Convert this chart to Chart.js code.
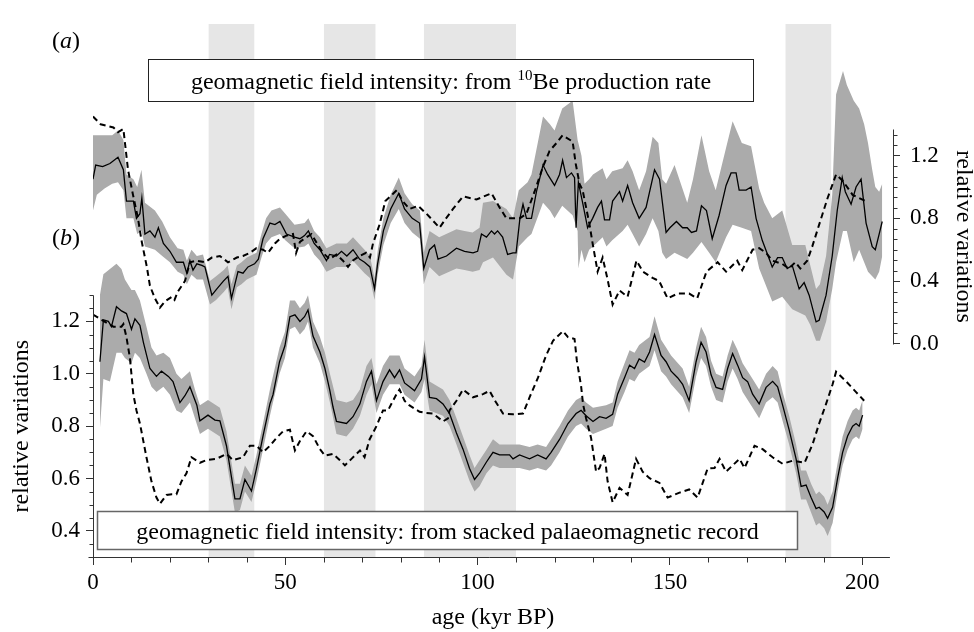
<!DOCTYPE html>
<html lang="en">
<head>
<meta charset="UTF-8">
<title>geomagnetic field intensity</title>
<script src="https://cdn.jsdelivr.net/npm/chart.js@4"></script>
<style>
  body { margin: 0; background: #fff; }
  #wrap { width: 974px; height: 632px; }
</style>
</head>
<body>
<div id="wrap"><canvas id="chart"></canvas></div>
<script>
// shaded intervals (kyr BP)
const bandStart = [30, 60, 86, 180];
const bandEnd = [42, 73.5, 110, 192];

// (a) field from 10Be production rate, right axis  [age, value]
const aSolid = [[0,1.05],[0.7,1.14],[2.5,1.13],[4.4,1.15],[6.5,1.19],[7.9,1.11],[8.7,0.91],[10.5,0.91],[11.3,0.80],[12.2,0.83],[12.7,0.93],[13.5,0.70],[14.8,0.72],[16.1,0.68],[17,0.74],[18.3,0.64],[20,0.59],[21.7,0.52],[23.5,0.52],[24.4,0.45],[25.2,0.53],[26,0.47],[27,0.51],[28.3,0.50],[29.1,0.49],[30.9,0.31],[32.2,0.35],[33.9,0.40],[35.1,0.43],[36,0.29],[37.7,0.46],[39,0.45],[40.3,0.49],[42,0.51],[43,0.54],[44.2,0.67],[46,0.77],[47.3,0.76],[48.6,0.78],[50.3,0.70],[52.4,0.68],[53.8,0.67],[55,0.69],[56,0.72],[57.5,0.64],[59,0.60],[60.7,0.53],[61.5,0.57],[63.3,0.56],[64.6,0.59],[66,0.56],[67.6,0.60],[69.3,0.54],[70.6,0.52],[72,0.49],[73.2,0.35],[74,0.51],[75.5,0.72],[77.4,0.86],[79.5,0.96],[81,0.86],[83,0.80],[84.9,0.77],[86,0.48],[87.5,0.60],[88.8,0.63],[89.7,0.54],[91.9,0.56],[94.5,0.61],[96.6,0.59],[98.8,0.58],[100,0.59],[101,0.70],[102.3,0.68],[103.6,0.72],[104.4,0.70],[105.2,0.72],[106.5,0.68],[107.8,0.57],[109.2,0.58],[110,0.58],[111,0.80],[111.8,0.89],[112.7,0.80],[114,0.80],[115.3,0.97],[117,1.14],[118.2,1.08],[120,1.01],[121.3,1.08],[122.1,1.17],[123.1,1.06],[124.4,1.09],[125.2,1.06],[125.6,0.74],[126.2,1.03],[127.3,0.90],[128.6,0.74],[129.9,0.80],[131.2,0.87],[132.2,0.91],[133,0.79],[134.3,0.79],[135.1,0.91],[136.9,0.97],[137.7,0.91],[139,1.01],[140.3,0.90],[142,0.80],[143.8,0.87],[146,1.11],[147.3,1.05],[149,0.71],[150,0.74],[151.7,0.78],[153.3,0.74],[154.5,0.74],[155.6,0.71],[156.9,0.72],[158.2,0.88],[159.5,0.85],[161,0.67],[162.8,0.82],[164.6,1.01],[165.9,1.09],[167.2,1.09],[168,0.98],[169.8,0.98],[171.1,1.00],[172.4,0.80],[174,0.66],[176.6,0.49],[178,0.55],[179.2,0.55],[180.5,0.48],[181.8,0.50],[183.6,0.35],[184.9,0.39],[186.2,0.31],[188,0.14],[188.8,0.15],[190.6,0.31],[192.2,0.56],[193.5,0.85],[194.8,1.06],[195.6,0.97],[197.1,0.89],[198.4,1.00],[199.7,1.05],[201,0.77],[202.6,0.62],[203.4,0.60],[204.4,0.70],[205.2,0.78]];

// (a) uncertainty band  [age, low, high]
const aBand = [[0,0.85,1.33],[1,0.95,1.33],[3,0.99,1.33],[5,1.02,1.33],[6.5,1.03,1.36],[7.9,0.98,1.30],[8.7,0.80,1.08],[10.5,0.80,1.05],[11.5,0.70,1.00],[12.6,0.72,1.11],[13.5,0.62,0.90],[16.1,0.60,0.85],[18,0.56,0.78],[20,0.52,0.68],[22,0.46,0.61],[23.5,0.44,0.60],[24.4,0.38,0.53],[25.6,0.44,0.60],[27,0.41,0.56],[28.6,0.41,0.57],[30.4,0.25,0.40],[32,0.28,0.43],[34,0.33,0.47],[35,0.36,0.50],[36,0.22,0.38],[37.4,0.36,0.50],[38.6,0.38,0.52],[40,0.41,0.55],[42.5,0.44,0.58],[43.8,0.55,0.70],[45,0.64,0.80],[46.4,0.68,0.85],[48.6,0.70,0.87],[50,0.66,0.83],[52.4,0.61,0.76],[55,0.62,0.77],[56,0.64,0.80],[57.5,0.57,0.72],[59,0.53,0.68],[60.7,0.46,0.61],[63.3,0.49,0.64],[66,0.49,0.64],[67.6,0.53,0.68],[70.6,0.45,0.60],[72,0.42,0.56],[73.2,0.28,0.42],[74,0.44,0.59],[75.5,0.63,0.80],[77.4,0.77,0.95],[79.5,0.86,1.06],[81,0.77,0.96],[83,0.71,0.89],[85,0.67,0.85],[86,0.38,0.58],[87.5,0.49,0.72],[90,0.43,0.68],[94.5,0.48,0.73],[96.6,0.47,0.72],[98.7,0.46,0.71],[100.5,0.47,0.74],[101.4,0.52,0.90],[104,0.55,0.91],[107.5,0.44,0.86],[109.2,0.41,0.80],[110.7,0.62,0.98],[113,0.68,1.03],[114,0.70,1.08],[117,0.90,1.45],[118.8,0.85,1.40],[120,0.80,1.36],[122,0.88,1.50],[124.7,0.82,1.55],[126,0.72,1.30],[126.2,0.48,1.28],[127,0.60,1.20],[127.8,0.52,1.02],[129,0.60,1.05],[130,0.62,1.08],[132.5,0.68,1.12],[133.5,0.62,1.05],[135,0.66,1.10],[137.7,0.72,1.12],[139,0.76,1.17],[140.3,0.70,1.10],[142,0.62,0.98],[143.8,0.70,1.10],[145.5,0.80,1.32],[147,0.72,1.28],[148,0.58,1.05],[149,0.54,1.02],[151.2,0.58,1.14],[154.5,0.54,0.90],[156,0.58,1.05],[158.2,0.65,1.33],[160.2,0.58,1.10],[161.9,0.52,0.98],[164.6,0.68,1.25],[166.3,0.76,1.42],[168.7,0.74,1.28],[171.1,0.72,1.26],[173.2,0.48,0.99],[174.5,0.40,0.90],[176.6,0.27,0.80],[179.2,0.30,0.85],[181.8,0.22,0.63],[185.2,0.18,0.63],[186.5,0.12,0.50],[188,0.02,0.35],[189,0.02,0.38],[190.6,0.14,0.56],[192.2,0.35,0.95],[193.2,0.52,1.59],[195,0.72,1.74],[196,0.72,1.65],[197.8,0.52,1.55],[199.2,0.60,1.50],[200.5,0.52,1.40],[201.5,0.46,1.28],[202.6,0.43,1.11],[203.4,0.41,1.00],[204.4,0.46,0.97],[205.2,0.56,1.02]];

// (a) dashed comparison curve  [age, value]
const aDashed = [[0,1.45],[2,1.40],[5.3,1.38],[6.5,1.35],[7.9,1.37],[9.1,1.11],[10.4,0.95],[11.7,0.80],[12.6,0.66],[14,0.49],[14.8,0.37],[16.1,0.29],[17.4,0.23],[18.7,0.27],[20.5,0.30],[21.2,0.28],[22,0.33],[23.9,0.40],[25.2,0.52],[27,0.53],[29.1,0.52],[30.9,0.55],[33,0.56],[35.1,0.52],[37.4,0.55],[39,0.56],[40.8,0.58],[42.5,0.61],[44.2,0.60],[45.5,0.58],[47.3,0.64],[48.6,0.67],[50.3,0.69],[52,0.70],[52.8,0.58],[53.8,0.65],[55.5,0.68],[56.8,0.70],[58,0.65],[59.8,0.58],[61.5,0.54],[63.3,0.57],[65,0.53],[66.3,0.49],[67.5,0.53],[69.3,0.56],[71,0.58],[72,0.55],[72.8,0.64],[74.5,0.76],[76,0.91],[79,0.98],[80.5,0.91],[82.3,0.86],[84.5,0.88],[86.7,0.83],[90.1,0.74],[91.5,0.79],[93.6,0.86],[96.2,0.94],[99.7,0.92],[103.6,0.96],[105.7,0.87],[107.5,0.80],[111,0.80],[112.7,0.83],[114.8,0.97],[117,1.13],[118.7,1.23],[120.5,1.28],[122.1,1.33],[124.7,1.29],[125.5,1.15],[126.5,1.02],[127.3,0.98],[129.1,0.76],[129.9,0.64],[131.2,0.46],[132.5,0.55],[133.8,0.41],[135.1,0.25],[136.9,0.34],[139,0.30],[141.3,0.53],[143,0.46],[145.5,0.42],[147.2,0.40],[149.4,0.29],[152,0.32],[155,0.32],[157.1,0.29],[159.5,0.46],[162.4,0.52],[164.6,0.46],[167.5,0.53],[168.8,0.47],[171.5,0.60],[173.2,0.61],[175,0.58],[176.6,0.53],[179.2,0.51],[180.9,0.48],[182.6,0.52],[183.9,0.48],[185.7,0.53],[187,0.62],[188.8,0.76],[191,0.93],[193.2,1.08],[194.9,1.04],[197.5,0.95],[199.2,0.93],[200.9,0.91]];

// (b) stacked palaeomagnetic record, left axis  [age, value]
const bSolid = [[1.8,1.046],[2.7,1.206],[4,1.20],[4.8,1.18],[6.1,1.256],[7.4,1.24],[8.7,1.23],[10,1.17],[10.9,1.21],[12.2,1.185],[13.1,1.12],[14.8,1.02],[16.5,0.99],[17.8,1.01],[19.6,0.99],[20.8,0.97],[22.6,0.89],[23.9,0.916],[25.2,0.95],[27,0.88],[27.8,0.82],[29.9,0.842],[31.7,0.823],[33,0.82],[34.7,0.725],[36.9,0.522],[38.2,0.522],[39.5,0.596],[41.2,0.552],[42.5,0.638],[44.2,0.762],[46,0.885],[46.8,0.92],[48.5,1.046],[49.9,1.107],[51.2,1.218],[52.5,1.225],[53.8,1.20],[55,1.218],[55.9,1.244],[57.2,1.144],[59,1.083],[60.3,1.02],[61.6,0.935],[62.4,0.873],[63.3,0.818],[65.9,0.81],[67.6,0.836],[69.4,0.885],[71.1,0.971],[72.4,1.01],[73.7,0.897],[75.4,0.97],[77.1,1.015],[78.4,0.985],[79.7,1.015],[81,0.965],[82.3,0.95],[83.6,0.935],[85.4,0.98],[86.2,1.064],[87.5,0.91],[89.3,0.905],[91,0.885],[92.7,0.848],[94.5,0.774],[96.2,0.712],[97.9,0.638],[99.2,0.596],[100.5,0.62],[102.3,0.663],[103.1,0.681],[104,0.70],[105.7,0.69],[108.3,0.69],[109.2,0.675],[110.9,0.69],[113.5,0.675],[115.6,0.69],[117.8,0.675],[119.1,0.70],[121.3,0.749],[123.5,0.81],[125.6,0.848],[126.9,0.86],[128.2,0.84],[130,0.818],[131.7,0.836],[133.4,0.83],[135.1,0.845],[136.4,0.922],[138.2,0.985],[139.5,1.033],[140.8,1.02],[142,1.057],[143.4,1.045],[144.7,1.083],[146,1.15],[147.7,1.07],[149,1.046],[150.3,1.01],[152,0.985],[153.3,0.96],[155,0.897],[156.8,1.046],[158.1,1.12],[159.4,1.083],[160.7,0.996],[162,0.948],[163.7,0.94],[165,1.02],[166.3,1.077],[167.6,1.033],[168.9,0.985],[170.2,0.97],[171.5,0.922],[173.2,0.885],[175,0.948],[176.7,0.971],[178,0.95],[179.3,0.88],[181,0.786],[182.8,0.675],[184.1,0.57],[185.4,0.575],[186.7,0.527],[188,0.485],[188.8,0.49],[190.1,0.472],[191,0.448],[192.3,0.49],[193.6,0.601],[194.9,0.70],[196.2,0.762],[197.5,0.80],[198.4,0.81],[199.2,0.80],[200.1,0.842]];

// (b) uncertainty band  [age, low, high]
const bBand = [[1.8,0.79,1.30],[2.7,0.98,1.38],[4.4,0.97,1.40],[6.1,1.08,1.42],[7.4,1.08,1.40],[8.3,1.06,1.36],[10,1.04,1.32],[10.9,1.08,1.32],[12.2,1.06,1.28],[13.9,1.00,1.18],[15.2,0.95,1.10],[16.5,0.93,1.07],[18.3,0.95,1.08],[20,0.92,1.06],[21.7,0.86,1.00],[23,0.85,0.98],[25.2,0.89,1.01],[26.5,0.83,0.94],[27.8,0.77,0.88],[29.9,0.79,0.90],[33,0.76,0.87],[34.7,0.67,0.78],[36.9,0.47,0.58],[38.2,0.48,0.58],[39.5,0.55,0.65],[41.2,0.51,0.61],[42.5,0.59,0.69],[44.2,0.71,0.81],[46,0.84,0.94],[48.5,1.00,1.10],[49.9,1.06,1.16],[51.2,1.17,1.28],[52.5,1.18,1.28],[53.8,1.15,1.25],[55,1.17,1.27],[55.9,1.20,1.30],[57.2,1.10,1.20],[59,1.04,1.14],[60.3,0.97,1.08],[61.6,0.89,1.00],[63.3,0.77,0.90],[65.9,0.76,0.89],[67.6,0.79,0.90],[69.4,0.84,0.94],[71.1,0.92,1.03],[72.4,0.96,1.06],[73.7,0.85,0.96],[75.4,0.92,1.03],[77.1,0.96,1.07],[79.7,0.96,1.07],[81,0.92,1.02],[83.6,0.89,0.99],[85.4,0.93,1.03],[86.2,0.98,1.13],[87.5,0.86,0.97],[91,0.84,0.94],[92.7,0.80,0.90],[94.5,0.73,0.83],[96.2,0.66,0.76],[97.9,0.59,0.69],[99.2,0.55,0.64],[100.5,0.57,0.67],[102.3,0.62,0.71],[104,0.65,0.75],[105.7,0.64,0.73],[108.3,0.64,0.73],[110.9,0.64,0.73],[113.5,0.63,0.72],[115.6,0.64,0.73],[117.8,0.63,0.72],[119.1,0.65,0.75],[121.3,0.70,0.80],[123.5,0.76,0.86],[125.6,0.80,0.90],[126.9,0.81,0.91],[128.2,0.79,0.89],[130,0.77,0.87],[133.4,0.79,0.88],[135.1,0.80,0.89],[136.4,0.87,0.97],[138.2,0.93,1.04],[139.5,0.98,1.09],[140.8,0.97,1.08],[142,1.00,1.11],[144.7,1.03,1.14],[146,1.09,1.22],[147.7,1.01,1.13],[149,0.99,1.10],[150.3,0.96,1.07],[153.3,0.91,1.02],[155,0.85,0.95],[156.8,0.99,1.10],[158.1,1.06,1.18],[159.4,1.03,1.14],[160.7,0.95,1.05],[162,0.90,1.00],[163.7,0.89,0.99],[165,0.97,1.07],[166.3,1.02,1.13],[167.6,0.98,1.09],[168.9,0.93,1.04],[171.5,0.87,0.98],[173.2,0.83,0.94],[175,0.89,1.00],[176.7,0.91,1.03],[178,0.89,1.01],[179.3,0.82,0.93],[181,0.73,0.84],[182.8,0.62,0.73],[184.1,0.52,0.63],[185.4,0.52,0.63],[186.7,0.47,0.58],[188,0.42,0.54],[188.8,0.43,0.55],[190.1,0.41,0.53],[191,0.38,0.50],[192.3,0.43,0.55],[193.6,0.55,0.66],[194.9,0.65,0.76],[196.2,0.71,0.82],[197.5,0.75,0.86],[198.4,0.76,0.87],[199.2,0.75,0.86],[200.1,0.79,0.90]];

// (b) dashed comparison curve  [age, value]
const bDashed = [[0,1.226],[1.8,1.21],[5.3,1.18],[7.4,1.18],[7.9,1.19],[8.7,1.14],[9.6,1.06],[10.5,0.92],[11.3,0.86],[12.2,0.81],[13.9,0.681],[15.2,0.589],[16.5,0.527],[17.4,0.503],[19.1,0.537],[20.5,0.54],[21.7,0.54],[23,0.589],[24.3,0.62],[25.6,0.681],[27.8,0.66],[29.5,0.67],[32.1,0.675],[34.7,0.694],[36.4,0.67],[39,0.681],[40.8,0.725],[42.5,0.725],[44.2,0.70],[46,0.725],[47.7,0.755],[49.4,0.78],[51.2,0.786],[52.5,0.707],[53.8,0.743],[55.5,0.78],[57.2,0.762],[59,0.712],[60.3,0.687],[62.4,0.694],[64.2,0.67],[65.5,0.65],[67.2,0.675],[69.4,0.707],[70.6,0.681],[71.9,0.749],[73.7,0.80],[75.4,0.86],[76.7,0.86],[78.9,0.922],[79.7,0.94],[81,0.897],[82.3,0.879],[84.9,0.855],[86.7,0.85],[88.4,0.848],[91,0.818],[92.3,0.83],[92.7,0.86],[94.5,0.897],[96.2,0.94],[98.8,0.91],[101.4,0.922],[103.1,0.935],[104.4,0.90],[106.6,0.848],[109.2,0.845],[111.8,0.848],[113.5,0.91],[115.7,0.985],[117.8,1.07],[119.6,1.126],[122.2,1.163],[123.5,1.14],[125.2,1.133],[125.8,1.05],[126.9,0.954],[127.4,0.885],[128.2,0.83],[129.5,0.755],[130.8,0.626],[131.7,0.64],[133,0.694],[133.8,0.589],[135.1,0.509],[136.9,0.564],[139,0.537],[141.2,0.675],[142.9,0.626],[144.7,0.601],[147.3,0.583],[149.4,0.527],[152.5,0.546],[155,0.558],[157.2,0.527],[159.8,0.638],[161.6,0.64],[162.9,0.675],[164.6,0.626],[166.3,0.65],[168.1,0.675],[169.4,0.64],[172,0.725],[174.1,0.712],[176.7,0.681],[179.3,0.656],[181.9,0.668],[185,0.66],[187.1,0.731],[188.8,0.81],[190.6,0.885],[192.3,0.96],[193.2,1.008],[195.8,0.971],[198.4,0.93],[200.5,0.897]];

const xTicks = [0, 50, 100, 150, 200];
const yBTicks = [0.4, 0.6, 0.8, 1.0, 1.2];
const yATicks = [0, 0.4, 0.8, 1.2];

const serif = '"Liberation Serif", "Times New Roman", serif';

function pts(rows, k) {
    return rows.map(r => ({x: r[0], y: r[k]}));
}

const none = 'rgba(0,0,0,0)';
const fillGrey = '#ababab';

const datasets = [];
bandStart.forEach((s, i) => {
    datasets.push({
        data: [{x: s, y: 1}, {x: bandEnd[i], y: 1}],
        yAxisID: 'yBand', fill: 'origin', backgroundColor: '#e6e6e6',
        borderColor: none, borderWidth: 0, pointRadius: 0, order: 5
    });
});
datasets.push(
    {data: pts(aBand, 2), yAxisID: 'yA', fill: '+1', backgroundColor: fillGrey, borderColor: none, borderWidth: 0, pointRadius: 0, order: 3},
    {data: pts(aBand, 1), yAxisID: 'yA', fill: false, borderColor: none, borderWidth: 0, pointRadius: 0, order: 3},
    {data: pts(bBand, 2), yAxisID: 'yB', fill: '+1', backgroundColor: fillGrey, borderColor: none, borderWidth: 0, pointRadius: 0, order: 3},
    {data: pts(bBand, 1), yAxisID: 'yB', fill: false, borderColor: none, borderWidth: 0, pointRadius: 0, order: 3},
    {data: pts(aSolid, 1), yAxisID: 'yA', borderColor: '#000', borderWidth: 1.3, pointRadius: 0, fill: false, order: 2},
    {data: pts(bSolid, 1), yAxisID: 'yB', borderColor: '#000', borderWidth: 1.3, pointRadius: 0, fill: false, order: 2},
    {data: pts(aDashed, 1), yAxisID: 'yA', borderColor: '#000', borderWidth: 2, borderDash: [6, 4], pointRadius: 0, fill: false, order: 1},
    {data: pts(bDashed, 1), yAxisID: 'yB', borderColor: '#000', borderWidth: 2, borderDash: [6, 4], pointRadius: 0, fill: false, order: 1}
);

function drawRich(ctx, parts, cx, cy) {
    let w = 0;
    parts.forEach(p => { ctx.font = (p.italic ? 'italic ' : '') + p.size + 'px ' + serif; p.w = ctx.measureText(p.t).width; w += p.w; });
    let x = cx - w / 2;
    ctx.textAlign = 'left';
    ctx.textBaseline = 'alphabetic';
    parts.forEach(p => {
        ctx.font = (p.italic ? 'italic ' : '') + p.size + 'px ' + serif;
        ctx.fillText(p.t, x, cy + (p.dy || 0));
        x += p.w;
    });
}

const decor = {
    id: 'decor',
    afterDraw(chart) {
        const {ctx, chartArea: ca} = chart;
        const {x, yA, yB} = chart.scales;
        const X = v => x.getPixelForValue(v);
        const seg = (x1, y1, x2, y2) => { ctx.beginPath(); ctx.moveTo(x1, y1); ctx.lineTo(x2, y2); ctx.stroke(); };
        ctx.save();
        ctx.strokeStyle = '#333';
        ctx.lineWidth = 1;
        const xl = Math.round(ca.left) + 0.5;
        const xr = Math.round(ca.right) + 0.5;
        const yb = Math.round(ca.bottom) + 0.5;

        // axis lines
        seg(xl - 5, yb, X(207.2), yb);
        seg(xl, Math.round(yB.getPixelForValue(1.3)) + 0.5, xl, yb);
        seg(xr, Math.round(yA.getPixelForValue(0)) + 0.5, xr, Math.round(yA.getPixelForValue(1.367)) + 0.5);

        // minor ticks
        for (let v = 10; v <= 200; v += 10) {
            if (v % 50) { const p = Math.round(X(v)) + 0.5; seg(p, yb, p, yb + 5); }
        }
        for (let i = 7; i <= 26; i++) {
            if (i % 4) { const p = Math.round(yB.getPixelForValue(i * 0.05)) + 0.5; seg(xl - 4, p, xl, p); }
        }
        for (let k = 1; k <= 20; k++) {
            if (k % 6) { const p = Math.round(yA.getPixelForValue(k * 0.4 / 6)) + 0.5; seg(xr, p, xr + 4, p); }
        }

        // axis titles
        ctx.fillStyle = '#000';
        ctx.font = '24px ' + serif;
        ctx.textAlign = 'center';
        ctx.textBaseline = 'middle';
        ctx.save();
        ctx.translate(ca.left - 71, (yB.getPixelForValue(0.3) + yB.getPixelForValue(1.3)) / 2);
        ctx.rotate(-Math.PI / 2);
        ctx.fillText('relative variations', 0, 0);
        ctx.restore();
        ctx.save();
        ctx.translate(ca.right + 70, (yA.getPixelForValue(0) + yA.getPixelForValue(1.367)) / 2);
        ctx.rotate(Math.PI / 2);
        ctx.fillText('relative variations', 0, 0);
        ctx.restore();

        // panel letters
        drawRich(ctx, [{t: '(', size: 24}, {t: 'a', size: 24, italic: true}, {t: ')', size: 24}], ca.left - 27, 48);
        drawRich(ctx, [{t: '(', size: 24}, {t: 'b', size: 24, italic: true}, {t: ')', size: 24}], ca.left - 27, 245);

        // caption boxes
        const ax1 = Math.round(X(14.3)) + 0.5, ax2 = Math.round(X(171.7)) + 0.5;
        const ay1 = Math.round(yA.getPixelForValue(1.818)) + 0.5, ay2 = Math.round(yA.getPixelForValue(1.546)) + 0.5;
        ctx.fillStyle = '#fff';
        ctx.fillRect(ax1, ay1, ax2 - ax1, ay2 - ay1);
        ctx.strokeStyle = '#222';
        ctx.strokeRect(ax1, ay1, ax2 - ax1, ay2 - ay1);
        ctx.fillStyle = '#000';
        drawRich(ctx, [
            {t: 'geomagnetic field intensity: from ', size: 24},
            {t: '10', size: 15, dy: -9},
            {t: 'Be production rate', size: 24}
        ], (ax1 + ax2) / 2, (ay1 + ay2) / 2 + 8);

        const bx1 = Math.round(X(1.0)) + 0.5, bx2 = Math.round(X(183.1)) + 0.5;
        const by1 = Math.round(yB.getPixelForValue(0.474)) + 0.5, by2 = Math.round(yB.getPixelForValue(0.33)) + 0.5;
        ctx.fillStyle = '#fff';
        ctx.fillRect(bx1, by1, bx2 - bx1, by2 - by1);
        ctx.strokeStyle = '#666';
        ctx.lineWidth = 1.5;
        ctx.strokeRect(bx1, by1, bx2 - bx1, by2 - by1);
        ctx.fillStyle = '#000';
        drawRich(ctx, [{t: 'geomagnetic field intensity: from stacked palaeomagnetic record', size: 24}],
            (bx1 + bx2) / 2, (by1 + by2) / 2 + 8);
        ctx.restore();
    }
};

const tickFont = {family: serif, size: 23};
const tickGrid = {drawOnChartArea: false, drawTicks: true, tickLength: 7, color: '#333', tickColor: '#333'};

new Chart(document.getElementById('chart'), {
    type: 'line',
    data: {datasets: datasets},
    options: {
        responsive: true,
        maintainAspectRatio: false,
        animation: false,
        layout: {padding: {top: 7, left: 0, right: 0, bottom: 0}},
        elements: {line: {tension: 0}},
        plugins: {legend: {display: false}, tooltip: {enabled: false}},
        scales: {
            x: {
                type: 'linear', position: 'bottom', min: 0, max: 208,
                afterBuildTicks: s => { s.ticks = xTicks.map(v => ({value: v})); },
                afterFit: s => { s.height = 75; },
                ticks: {font: tickFont, color: '#000', padding: 4, maxRotation: 0, autoSkip: false},
                grid: Object.assign({}, tickGrid, {tickLength: 8}),
                border: {display: false},
                title: {display: true, text: 'age (kyr BP)', color: '#000', font: {family: serif, size: 24}, padding: {top: 0, bottom: 0}}
            },
            yB: {
                type: 'linear', position: 'left', min: 0.3, max: 2.337,
                afterBuildTicks: s => { s.ticks = yBTicks.map(v => ({value: v})); },
                afterFit: s => { s.width = 93; },
                ticks: {font: tickFont, color: '#000', padding: 6, callback: v => v.toFixed(1)},
                grid: tickGrid,
                border: {display: false}
            },
            yA: {
                type: 'linear', position: 'right', min: -1.36, max: 2.041,
                afterBuildTicks: s => { s.ticks = yATicks.map(v => ({value: v})); },
                afterFit: s => { s.width = 81; },
                ticks: {font: tickFont, color: '#000', padding: 10, callback: v => v.toFixed(1)},
                grid: tickGrid,
                border: {display: false}
            },
            yBand: {type: 'linear', display: false, min: 0, max: 1}
        }
    },
    plugins: [decor]
});
</script>
</body>
</html>
